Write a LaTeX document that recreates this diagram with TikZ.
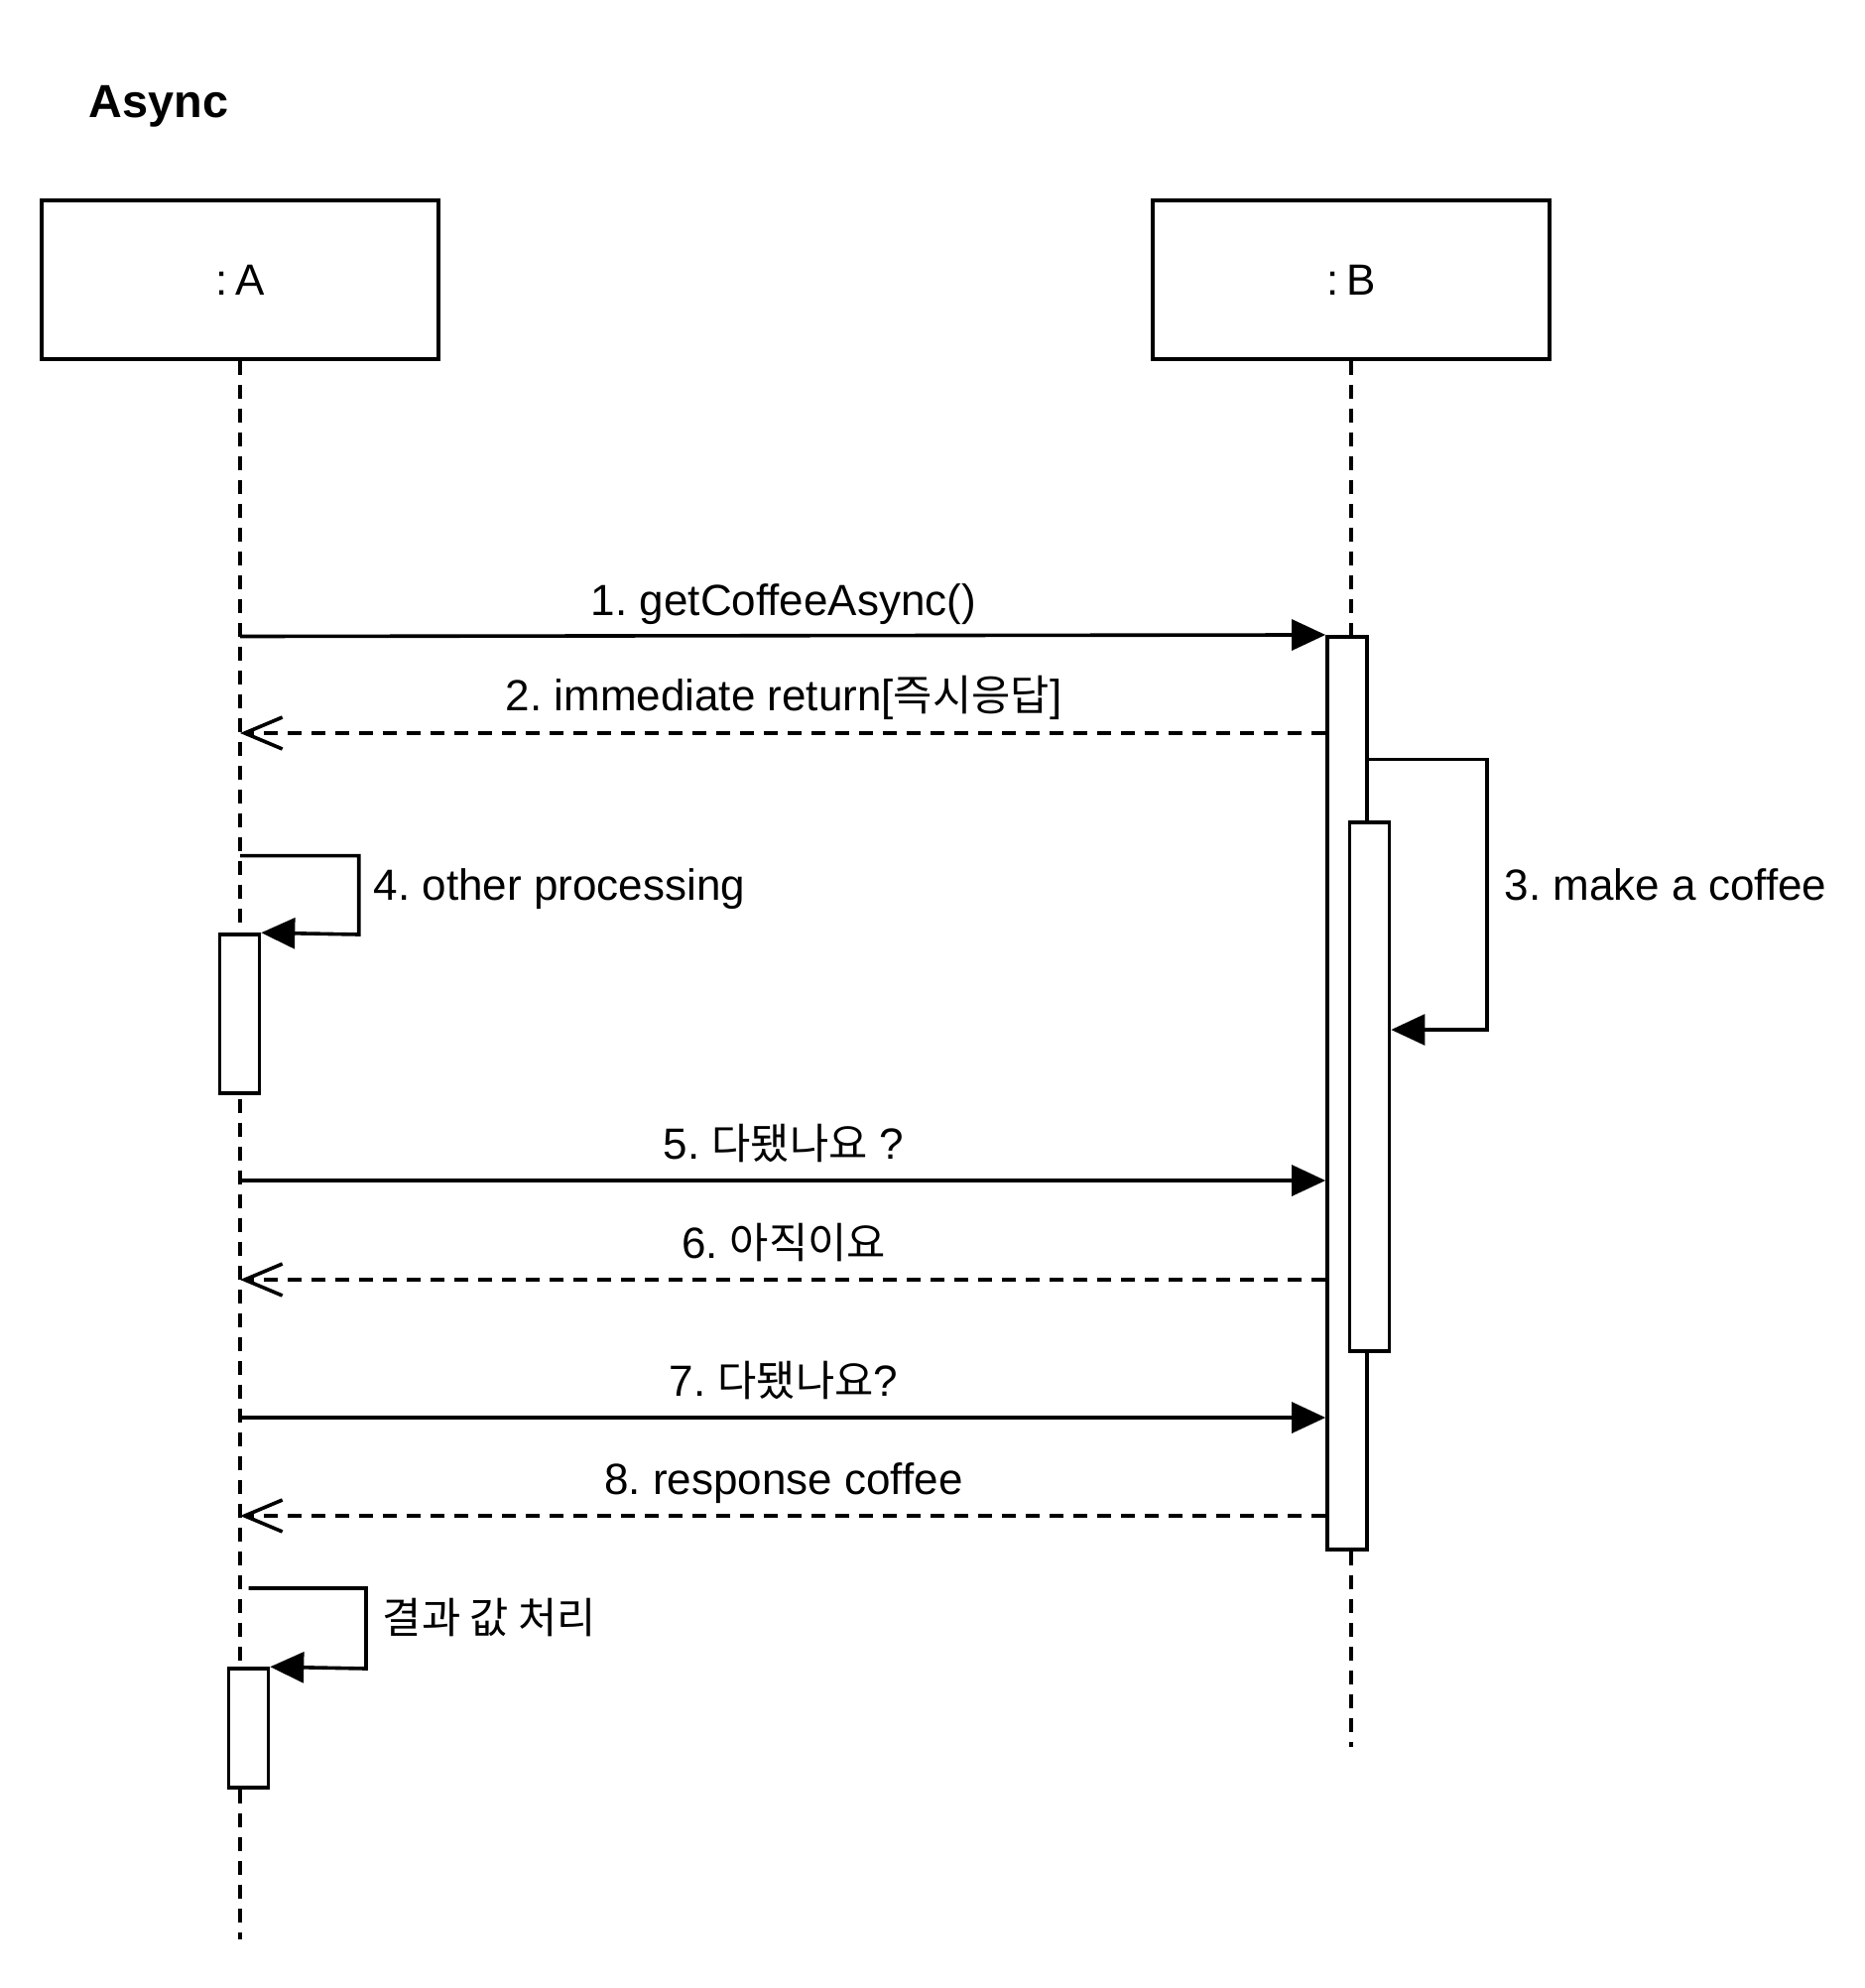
\documentclass[tikz,border=0pt]{standalone}
\usepackage{fontspec}
\setmainfont{Liberation Sans}
\newfontfamily\kr{Noto Sans CJK KR}[Scale=0.97]
\usetikzlibrary{arrows.meta}
\frenchspacing
\tikzset{
  lifebox/.style={draw, line width=0.9pt, minimum width=100pt, minimum height=40pt, inner sep=0pt, font=\fontsize{11}{13}\selectfont},
  actbox/.style={draw, fill=white, line width=0.9pt, minimum width=10pt, inner sep=0pt},
  lifeline/.style={line width=0.9pt, dash pattern=on 3.6pt off 2.4pt},
  callmsg/.style={line width=0.9pt, -{Triangle[length=8.5pt,width=7.7pt]}},
  retmsg/.style={line width=0.9pt, dash pattern=on 3.6pt off 2.4pt, -{Straight Barb[length=9.5pt,width=8pt]}},
  lbl/.style={font=\fontsize{11}{13}\selectfont, inner sep=0pt, anchor=base},
  lblw/.style={font=\fontsize{11}{13}\selectfont, inner sep=0pt, anchor=base west},
}
\begin{document}
\begin{tikzpicture}[x=0.25pt, y=-0.25pt]
\useasboundingbox (0,0) rectangle (1880,2004);
% title
\node[anchor=base west, inner sep=0pt, font=\bfseries\fontsize{11.7}{14}\selectfont] (title) at (89,118) {Async};
% lifeline heads
\node[lifebox] (boxA) at (242,282) {:\,A};
\node[lifebox] (boxB) at (1362,282) {:\,B};
\coordinate (endA) at (242,1955);
\coordinate (endB) at (1362,1761);
\draw[lifeline] (boxA.south) -- (endA);
\draw[lifeline] (boxB.south) -- (endB);
% activations
\node[actbox, minimum height=230pt] (actB) at (1358,1101.75) {};
\node[actbox, minimum height=133.25pt] (actB2) at (1380.5,1095.5) {};
\node[actbox, minimum height=40pt] (actA1) at (241.5,1022) {};
\node[actbox, minimum height=30pt] (actA2) at (250.5,1742) {};
% message anchor coordinates on lifeline A
\coordinate (a1) at (242,641.5);
\coordinate (a2) at (242,739);
\coordinate (a5) at (242,1190);
\coordinate (a6) at (242,1290);
\coordinate (a7) at (242,1429);
\coordinate (a8) at (242,1528);
% 1
\draw[callmsg] (a1) -- (actB.north west);
\node[lbl] (l1) at (790,620) {1. getCoffeeAsync()};
% 2
\draw[retmsg] (actB.west |- a2) -- (a2);
\node[lbl] (l2) at (790,716) {2. immediate return[{\kr 즉시응답}]};
% 3 self call on B
\coordinate (s3a) at (1499,765.5);
\coordinate (s3b) at (1499,1038);
\draw[callmsg] (actB.east |- s3a) -- (s3a) -- (s3b) -- (actB2.east |- s3b);
\node[lblw] (l3) at (1516,907) {3. make a coffee};
% 4 self call on A
\coordinate (s4s) at (242,862.6);
\coordinate (s4a) at (361.7,862.6);
\coordinate (s4b) at (361.7,942);
\draw[callmsg] (s4s) -- (s4a) -- (s4b) -- (actA1.north east);
\node[lblw] (l4) at (376,907) {4. other processing};
% 5
\draw[callmsg] (a5) -- (actB.west |- a5);
\node[lbl] (l5) at (790,1168) {5. {\kr 다됐나요} ?};
% 6
\draw[retmsg] (actB.west |- a6) -- (a6);
\node[lbl] (l6) at (790,1268) {6. {\kr 아직이요}};
% 7
\draw[callmsg] (a7) -- (actB.west |- a7);
\node[lbl] (l7) at (790,1407) {7. {\kr 다됐나요}?};
% 8
\draw[retmsg] (actB.west |- a8) -- (a8);
\node[lbl] (l8) at (790,1506) {8. response coffee};
% final self call
\coordinate (s9s) at (250.5,1601);
\coordinate (s9a) at (369,1601);
\coordinate (s9b) at (369,1682);
\draw[callmsg] (s9s) -- (s9a) -- (s9b) -- (actA2.north east);
\node[lblw] (l9) at (385,1646) {{\kr 결과 값 처리}};
\end{tikzpicture}
\end{document}
